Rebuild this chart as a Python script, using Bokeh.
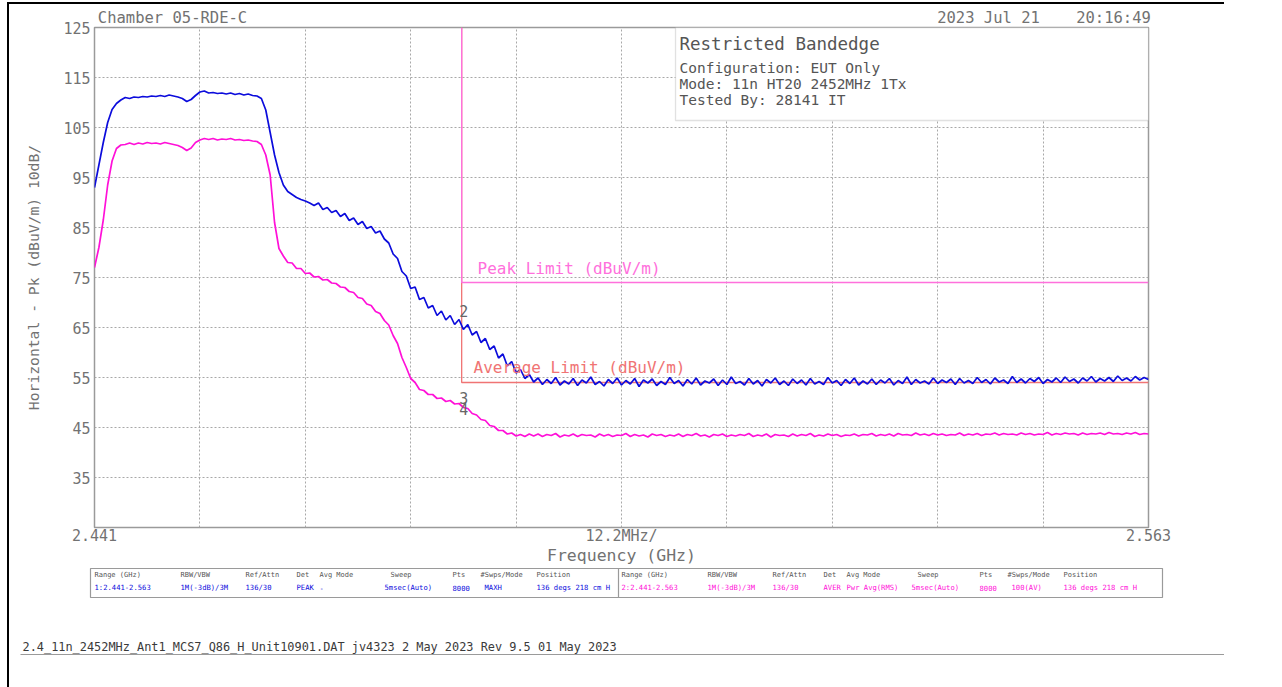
import numpy as np
from bokeh.plotting import figure
from bokeh.layouts import column
from bokeh.models import (Label, BoxAnnotation, FixedTicker, CustomJSTickFormatter,
                          Range1d, ColumnDataSource, LinearAxis)
from bokeh.embed import file_html
from bokeh.resources import INLINE
from bokeh.core.properties import value

# ---------------- data ----------------
F_START, F_STOP = 2.441, 2.563          # GHz
F_CENTER = 2.502
Y_MIN, Y_MAX = 25, 125                   # dBuV/m
N_PTS = 241
freq = np.linspace(F_START, F_STOP, N_PTS)   # evenly spaced sweep points

peak_trace = [
    93.0, 97.5, 102.0, 106.0, 108.6, 109.8, 110.5, 111.0, 110.8, 111.1,
    111.0, 111.2, 111.1, 111.3, 111.2, 111.4, 111.2, 111.5, 111.3, 111.1,
    110.8, 110.2, 110.6, 111.4, 112.1, 112.3, 111.9, 112.0, 111.8, 111.9,
    111.7, 111.9, 111.6, 111.8, 111.5, 111.7, 111.4, 111.3, 110.8, 108.5,
    104.0, 99.5, 96.0, 93.5, 92.2, 91.6, 91.0, 90.6, 90.3, 89.9,
    89.4, 89.9, 88.6, 89.0, 88.0, 88.4, 87.2, 87.8, 86.4, 86.9,
    85.6, 86.2, 84.8, 85.2, 83.9, 84.3, 82.7, 81.9, 79.7, 78.8,
    76.2, 75.3, 72.8, 73.1, 70.6, 71.0, 68.9, 69.4, 67.4, 68.3,
    66.5, 67.4, 65.6, 66.6, 64.6, 65.6, 63.5, 64.2, 62.0, 62.8,
    60.6, 61.3, 58.9, 59.7, 57.3, 58.2, 55.9, 56.6, 54.8, 55.6,
    54.1, 54.9, 53.6, 54.6, 53.8, 55.0, 53.5, 54.3, 53.7, 54.8,
    53.4, 54.5, 53.9, 55.1, 53.6, 54.2, 53.3, 54.6, 53.8, 54.9,
    53.5, 54.4, 53.7, 54.8, 53.2, 54.5, 53.9, 54.7, 53.4, 54.2,
    53.6, 55.0, 53.8, 54.4, 53.3, 54.6, 53.7, 54.9, 53.5, 54.3,
    53.9, 54.7, 53.4, 54.5, 53.6, 55.1, 53.8, 54.2, 53.5, 54.8,
    53.7, 54.4, 53.3, 54.6, 53.9, 54.9, 53.6, 54.3, 53.4, 54.7,
    53.8, 54.5, 53.5, 54.8, 53.7, 54.2, 53.6, 55.0, 53.9, 54.4,
    53.4, 54.6, 53.8, 54.9, 53.5, 54.3, 53.7, 54.7, 53.6, 54.5,
    53.9, 54.8, 53.5, 54.4, 53.8, 55.1, 53.6, 54.6, 53.9, 54.3,
    53.7, 54.9, 53.8, 54.5, 54.0, 54.7, 53.6, 54.8, 53.9, 54.4,
    53.8, 55.0, 54.0, 54.6, 53.7, 54.9, 54.1, 54.5, 53.8, 55.2,
    54.0, 54.7, 53.9, 54.8, 54.2, 55.0, 53.8, 54.6, 54.1, 54.9,
    54.0, 55.1, 54.2, 54.7, 53.9, 54.9, 54.3, 55.2, 54.1, 54.8,
    54.3, 55.0, 54.2, 55.3, 54.4, 54.9, 54.3, 55.2, 54.5, 55.0, 54.6,
]

avg_trace = [
    77.0, 81.0, 86.5, 93.5, 98.3, 100.8, 101.5, 101.6, 101.9, 101.6,
    101.9, 101.7, 102.0, 101.8, 101.9, 101.7, 102.0, 101.8, 101.6, 101.4,
    101.0, 100.4, 100.9, 102.0, 102.5, 102.8, 102.6, 102.8, 102.5, 102.7,
    102.6, 102.8, 102.5, 102.6, 102.4, 102.5, 102.3, 102.2, 101.6, 99.5,
    95.5, 86.0, 80.8, 79.3, 78.0, 77.9, 76.8, 76.8, 75.8, 75.9,
    75.1, 75.2, 74.5, 74.6, 73.9, 73.8, 73.1, 73.0, 72.2, 72.0,
    71.0, 70.8, 69.7, 69.4, 68.2, 67.8, 66.4, 65.5, 63.4, 61.8,
    59.0, 57.0, 54.8, 54.0, 52.6, 52.4, 51.6, 51.6, 50.8, 50.9,
    50.2, 50.4, 49.7, 49.8, 49.0, 48.8, 47.8, 47.5, 46.6, 46.4,
    45.4, 45.2, 44.4, 44.4, 43.7, 43.9, 43.3, 43.6, 43.2, 43.7,
    43.3, 43.7, 43.2, 43.6, 43.4, 43.8, 43.1, 43.5, 43.3, 43.7,
    43.2, 43.6, 43.4, 43.5, 43.1, 43.7, 43.3, 43.6, 43.2, 43.5,
    43.4, 43.8, 43.2, 43.6, 43.3, 43.5, 43.1, 43.7, 43.4, 43.6,
    43.2, 43.5, 43.3, 43.7, 43.2, 43.6, 43.4, 43.8, 43.3, 43.5,
    43.1, 43.6, 43.4, 43.7, 43.2, 43.5, 43.3, 43.6, 43.4, 43.8,
    43.2, 43.5, 43.3, 43.7, 43.1, 43.6, 43.4, 43.5, 43.2, 43.7,
    43.3, 43.6, 43.4, 43.8, 43.2, 43.5, 43.3, 43.7, 43.4, 43.6,
    43.2, 43.5, 43.4, 43.7, 43.3, 43.6, 43.5, 43.8, 43.3, 43.6,
    43.4, 43.7, 43.3, 43.8, 43.5, 43.6, 43.4, 43.9, 43.5, 43.7,
    43.4, 43.8, 43.5, 43.7, 43.4, 43.6, 43.5, 43.9, 43.4, 43.7,
    43.5, 43.8, 43.4, 43.7, 43.6, 43.9, 43.5, 43.8, 43.6, 43.7,
    43.5, 43.9, 43.6, 43.8, 43.5, 43.7, 43.6, 44.0, 43.5, 43.8,
    43.6, 43.9, 43.7, 43.8, 43.5, 43.9, 43.6, 43.8, 43.7, 43.9,
    43.6, 44.0, 43.7, 43.8, 43.6, 43.9, 43.7, 44.0, 43.6, 43.8, 43.7,
]

BANDEDGE_F = 2.4835
LIMIT_F = [BANDEDGE_F, BANDEDGE_F, F_STOP]
PEAK_LIMIT = [Y_MAX, 74, 74]
AVG_LIMIT = [Y_MAX, 54, 54]

MARKER_ID = ["2", "3", "4"]
MARKER_F = [BANDEDGE_F, BANDEDGE_F, BANDEDGE_F]
MARKER_LABEL_DB = [68.4, 51.0, 48.8]

Y_TICKS = [35, 45, 55, 65, 75, 85, 95, 105, 115, 125]
X_TICKS = [F_START, F_CENTER, F_STOP]
X_TICK_LABELS = ["2.441", "12.2MHz/", "2.563"]
X_GRID = [2.4532, 2.4654, 2.4776, 2.4898, 2.502, 2.5142, 2.5264, 2.5386, 2.5508]
Y_GRID = [35, 45, 55, 65, 75, 85, 95, 105, 115]

TABLE_HEAD = ["Range (GHz)", "RBW/VBW", "Ref/Attn", "Det", "Avg Mode", "Sweep",
              "Pts", "#Swps/Mode", "Position"]
TRACE1_ROW = ["1:2.441-2.563", "1M(-3dB)/3M", "136/30", "PEAK", "-", "5msec(Auto)",
              "8000", "MAXH", "136 degs 218 cm H"]
TRACE2_ROW = ["2:2.441-2.563", "1M(-3dB)/3M", "136/30", "AVER", "Pwr Avg(RMS)",
              "5msec(Auto)", "8000", "100(AV)", "136 degs 218 cm H"]

INFO_TITLE = "Restricted Bandedge"
INFO_LINES = ["Configuration: EUT Only", "Mode: 11n HT20 2452MHz 1Tx", "Tested By: 28141 IT"]
HEADER_TEXTS = ["Chamber 05-RDE-C", "2023 Jul 21", "20:16:49"]
FOOTER = "2.4_11n_2452MHz_Ant1_MCS7_Q86_H_Unit10901.DAT  jv4323  2 May 2023 Rev 9.5 01 May 2023"

# ---------------- layout (canvas pixels) ----------------
W = 1215
H_MAIN, H_BOT = 563, 120
FL, FR, FT, FB = 85, 1139, 23, 523   # plot frame edges in main canvas

FONT = "DejaVu Sans Mono"
GREY = "#727272"
DARK = "#555555"
BLUE = "#0c0cdc"
PINK = "#ff10d8"
PEAK_LIM_C = "#ff70dc"
AVG_LIM_C = "#f07474"


def px(x):
    return F_START + (x - FL) * (F_STOP - F_START) / (FR - FL)


def py(y):
    return Y_MAX - (y - FT) * (Y_MAX - Y_MIN) / (FB - FT)


p = figure(width=W, height=H_MAIN, output_backend="svg", toolbar_location=None,
           x_range=Range1d(F_START, F_STOP), y_range=Range1d(Y_MIN, Y_MAX),
           min_border_left=FL, min_border_right=W - FR,
           min_border_top=FT, min_border_bottom=H_MAIN - FB)
p.background_fill_color = "white"
p.border_fill_color = "white"
p.outline_line_color = "#9a9a9a"
p.outline_line_width = 1.5

bottom_ax = p.below[0]
left_ax = p.left[0]

# grid
p.xgrid.ticker = FixedTicker(ticks=X_GRID)
p.ygrid.ticker = FixedTicker(ticks=Y_GRID)
for g in (p.xgrid, p.ygrid):
    g.grid_line_color = "#a8a8a8"
    g.grid_line_dash = "2 2"
    g.grid_line_width = 1

# header "axis" above the plot: chamber name, date, time
HEADER_X = [px(163), px(979), px(1104)]
top_ax = LinearAxis(ticker=FixedTicker(ticks=HEADER_X),
                    formatter=CustomJSTickFormatter(
                        args=dict(vals=HEADER_X, labels=HEADER_TEXTS),
                        code="""
for (let i = 0; i < vals.length; i++) {
  if (Math.abs(tick - vals[i]) < 1e-7) return labels[i];
}
return '';
"""))
p.add_layout(top_ax, "above")

for ax in (bottom_ax, left_ax, top_ax):
    ax.axis_line_color = None
    ax.major_tick_line_color = None
    ax.minor_tick_line_color = None
    ax.major_tick_out = 0
    ax.major_tick_in = 0
    ax.minor_tick_out = 0
    ax.minor_tick_in = 0
    ax.major_label_text_font = FONT
    ax.major_label_text_color = GREY
    ax.major_label_text_font_size = "15px"
    ax.axis_label_text_font = FONT
    ax.axis_label_text_font_style = "normal"
    ax.axis_label_text_color = GREY

top_ax.major_label_text_font_size = "15.5px"
top_ax.major_label_standoff = 1

left_ax.ticker = FixedTicker(ticks=Y_TICKS)
left_ax.major_label_standoff = 4
left_ax.axis_label = "Horizontal - Pk (dBuV/m) 10dB/"
left_ax.axis_label_text_font_size = "14.7px"
left_ax.axis_label_standoff = 18

bottom_ax.ticker = FixedTicker(ticks=X_TICKS)
bottom_ax.formatter = CustomJSTickFormatter(
    args=dict(vals=X_TICKS, labels=X_TICK_LABELS),
    code="""
for (let i = 0; i < vals.length; i++) {
  if (Math.abs(tick - vals[i]) < 1e-6) return labels[i];
}
return '';
""")
bottom_ax.major_label_standoff = -1
bottom_ax.axis_label = "Frequency (GHz)"
bottom_ax.axis_label_text_font_size = "16.5px"
bottom_ax.axis_label_standoff = -2

# info box (inside plot area)
p.add_layout(BoxAnnotation(left=px(666), right=px(FR), top=py(FT), bottom=py(116),
                           fill_color="white", fill_alpha=1.0,
                           line_color="#9a9a9a", line_width=1.3))

# limits
p.line(LIMIT_F, AVG_LIMIT, line_color=AVG_LIM_C, line_width=1.3)
p.line(LIMIT_F, PEAK_LIMIT, line_color=PEAK_LIM_C, line_width=1.3)

# traces
src = ColumnDataSource(dict(f=freq, pk=peak_trace, av=avg_trace))
p.line("f", "av", source=src, line_color=PINK, line_width=1.7)
p.line("f", "pk", source=src, line_color=BLUE, line_width=1.7)

# markers
msrc = ColumnDataSource(dict(f=MARKER_F, y=MARKER_LABEL_DB, t=MARKER_ID))
p.text("f", "y", text="t", source=msrc, text_font=value(FONT), text_font_size="15px",
       text_color="#666666", text_align="center", text_baseline="middle", x_offset=2)


def lab(x, y, text, size="13px", color=GREY, align="left"):
    p.add_layout(Label(x=px(x), y=py(y), text=text, text_font=FONT,
                       text_font_size=size, text_color=color,
                       text_align=align, text_baseline="middle"))


lab(468, 264, "Peak Limit (dBuV/m)", "16px", PEAK_LIM_C)
lab(464, 363, "Average Limit (dBuV/m)", "16px", AVG_LIM_C)

lab(670, 39, INFO_TITLE, "17.5px", DARK)
for k, t in enumerate(INFO_LINES):
    lab(670, 63 + 16 * k, t, "14.5px", DARK)

# ---------------- bottom strip: settings table + footer ----------------
b = figure(width=W, height=H_BOT, output_backend="svg", toolbar_location=None,
           x_range=Range1d(0, W), y_range=Range1d(H_BOT, 0),
           min_border=0, min_border_left=0, min_border_right=0,
           min_border_top=0, min_border_bottom=0)
b.axis.visible = False
b.grid.visible = False
b.outline_line_color = None
b.background_fill_color = "white"
b.border_fill_color = "white"

for f in (p, b):
    if "frame_align" in f.properties():
        f.frame_align = False

# table frame and separator
b.quad(left=[81], right=[1153], top=[1], bottom=[30], fill_alpha=0,
       line_color="#9a9a9a", line_width=1.2)
b.segment(x0=[609], y0=[1], x1=[609], y1=[30], line_color="#9a9a9a", line_width=1.2)

HEAD_X = [85, 171, 236, 287, 310, 381, 443, 471, 527]
VAL_X = [85, 171, 236, 287, 310, 375, 443, 475, 527]
RIGHT_SHIFT = 527
b.text(x=HEAD_X + [x + RIGHT_SHIFT for x in HEAD_X], y=[7.5] * 18, text=TABLE_HEAD * 2,
       text_font=value(FONT), text_font_size="7px", text_color="#555555",
       text_baseline="middle", text_align="left")
b.text(x=VAL_X, y=[20] * 9, text=TRACE1_ROW,
       text_font=value(FONT), text_font_size="7.2px", text_color=BLUE,
       text_baseline="middle", text_align="left")
b.text(x=[x + RIGHT_SHIFT for x in VAL_X], y=[20] * 9, text=TRACE2_ROW,
       text_font=value(FONT), text_font_size="7.2px", text_color=PINK,
       text_baseline="middle", text_align="left")

# footer
b.text(x=[13], y=[79], text=[FOOTER], text_font=value(FONT), text_font_size="11.9px",
       text_color="#3a3a3a", text_baseline="middle", text_align="left")
b.segment(x0=[11], y0=[87], x1=[W], y1=[87], line_color="#9a9a9a", line_width=1.2)

layout = column(p, b, spacing=0, margin=(2, 0, 0, 7),
                styles={"border-left": "2px solid black", "border-top": "2px solid black"})

open("out.html", "w").write(file_html(layout, INLINE))
